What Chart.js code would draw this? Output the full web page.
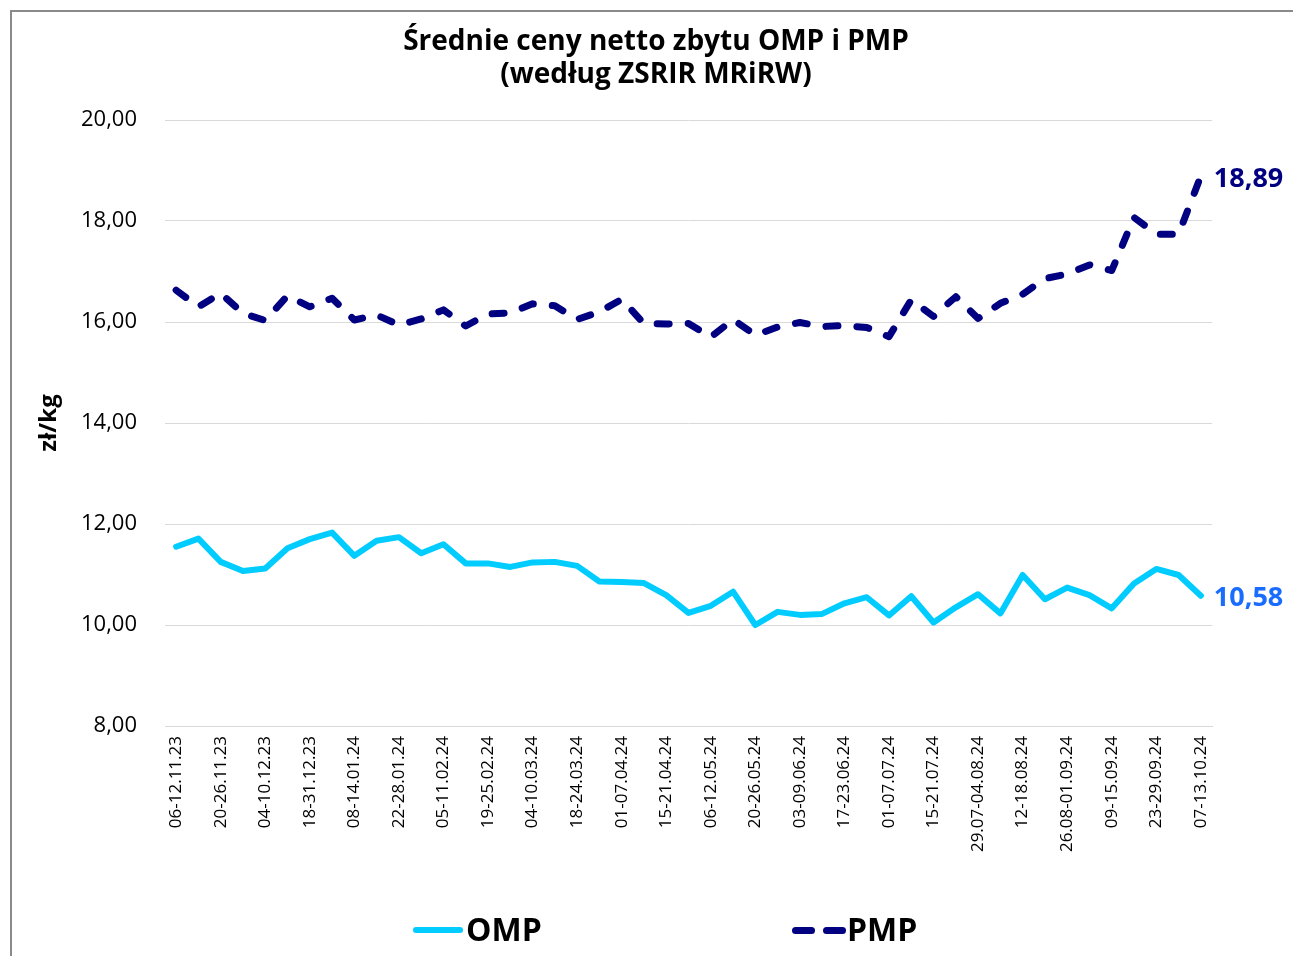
<!DOCTYPE html>
<html>
<head>
<meta charset="utf-8">
<script src="https://cdn.jsdelivr.net/npm/chart.js@4.4.1/dist/chart.umd.min.js"></script>
<style>
  html, body { margin: 0; padding: 0; background: #ffffff; }
  #wrap { position: relative; width: 1293px; height: 956px; overflow: hidden; }
  #frame { position: absolute; left: 10px; top: 10px; width: 1400px; height: 1000px;
           border-left: 2px solid #8a8a8a; border-top: 2px solid #8a8a8a; }
  #c { position: absolute; left: 0; top: 0; }
  #title { position: absolute; left: 0; top: 23px; width: 1312px; text-align: center;
           font-family: "Open Sans", sans-serif; font-weight: 700; font-size: 28px;
           line-height: 33px; color: #000; }
  .leg { position: absolute; font-family: "Open Sans", sans-serif; font-weight: 700;
         font-size: 32px; color: #000; line-height: 1; }
  .sw { position: absolute; border-radius: 4px; }
</style>
</head>
<body>
<div id="wrap">
  <div id="frame"></div>
  <canvas id="c" width="1293" height="956"></canvas>
  <div id="title"></div>
  <div class="sw" style="left:413px; top:927px; width:50px; height:6px; background:#00CCFF;"></div>
  <div class="leg" id="leg1" style="left:466px; top:913px;"></div>
  <div class="sw" style="left:792px; top:927px; width:23px; height:7px; background:#000080;"></div>
  <div class="sw" style="left:823px; top:927px; width:23px; height:7px; background:#000080;"></div>
  <div class="leg" id="leg2" style="left:847px; top:913px;"></div>
</div>
<script>
const categories = [
  "06-12.11.23", "13-19.11.23", "20-26.11.23", "27.11-03.12.23", "04-10.12.23",
  "11-17.12.23", "18-31.12.23", "01-07.01.24", "08-14.01.24", "15-21.01.24",
  "22-28.01.24", "29.01-04.02.24", "05-11.02.24", "12-18.02.24", "19-25.02.24",
  "26.02-03.03.24", "04-10.03.24", "11-17.03.24", "18-24.03.24", "25-31.03.24",
  "01-07.04.24", "08-14.04.24", "15-21.04.24", "22.04-05.05.24", "06-12.05.24",
  "13-19.05.24", "20-26.05.24", "27.05-02.06.24", "03-09.06.24", "10-16.06.24",
  "17-23.06.24", "24-30.06.24", "01-07.07.24", "08-14.07.24", "15-21.07.24",
  "22-28.07.24", "29.07-04.08.24", "05-11.08.24", "12-18.08.24", "19-25.08.24",
  "26.08-01.09.24", "02-08.09.24", "09-15.09.24", "16-22.09.24", "23-29.09.24",
  "30.09-06.10.24", "07-13.10.24"
];
const omp = [
  11.55, 11.71, 11.25, 11.07, 11.12, 11.52, 11.70, 11.83, 11.37, 11.67,
  11.74, 11.42, 11.60, 11.22, 11.22, 11.15, 11.24, 11.25, 11.17, 10.86,
  10.85, 10.83, 10.59, 10.24, 10.38, 10.66, 10.00, 10.26, 10.20, 10.22,
  10.43, 10.55, 10.19, 10.57, 10.05, 10.35, 10.61, 10.23, 10.99, 10.51,
  10.74, 10.59, 10.33, 10.82, 11.11, 10.99, 10.58
];
const pmp = [
  16.63, 16.30, 16.57, 16.17, 16.03, 16.52, 16.30, 16.47, 16.04, 16.14,
  15.94, 16.06, 16.24, 15.92, 16.16, 16.18, 16.36, 16.32, 16.05, 16.20,
  16.45, 15.97, 15.96, 15.97, 15.70, 16.05, 15.74, 15.90, 15.99, 15.91,
  15.93, 15.89, 15.71, 16.44, 16.11, 16.50, 16.07, 16.37, 16.55, 16.86,
  16.95, 17.13, 17.02, 18.07, 17.74, 17.74, 18.89
];
const yMin = 8, yMax = 20, yStep = 2;
const titleLines = ["Średnie ceny netto zbytu OMP i PMP", "(według ZSRIR MRiRW)"];
const yTitle = "zł/kg";
const seriesNames = ["OMP", "PMP"];

const fmt = v => Number(v).toFixed(2).replace('.', ',');

const titleEl = document.getElementById('title');
titleLines.forEach((t, i) => {
  if (i) titleEl.appendChild(document.createElement('br'));
  titleEl.appendChild(document.createTextNode(t));
});
document.getElementById('leg1').textContent = seriesNames[0];
document.getElementById('leg2').textContent = seriesNames[1];

const endLabels = {
  id: 'endLabels',
  afterDatasetsDraw(chart) {
    const ctx = chart.ctx;
    chart.data.datasets.forEach((ds, i) => {
      const meta = chart.getDatasetMeta(i);
      const last = meta.data[meta.data.length - 1];
      if (!last) return;
      ctx.save();
      ctx.font = '700 27px "Open Sans", sans-serif';
      ctx.fillStyle = ds.endLabelColor;
      ctx.textAlign = 'left';
      ctx.textBaseline = 'middle';
      ctx.fillText(fmt(ds.data[ds.data.length - 1]), last.x + 13, last.y + 3);
      ctx.restore();
    });
  }
};

new Chart(document.getElementById('c'), {
  type: 'line',
  data: {
    labels: categories,
    datasets: [
      {
        label: seriesNames[0], data: omp,
        borderColor: '#00CCFF', backgroundColor: '#00CCFF',
        borderWidth: 6, pointRadius: 0, tension: 0,
        borderJoinStyle: 'round', borderCapStyle: 'round',
        endLabelColor: '#1a6cff'
      },
      {
        label: seriesNames[1], data: pmp,
        borderColor: '#000080', backgroundColor: '#000080',
        borderWidth: 7, pointRadius: 0, tension: 0,
        borderDash: [12, 19], borderCapStyle: 'round', borderJoinStyle: 'round',
        endLabelColor: '#000080'
      }
    ]
  },
  options: {
    responsive: false,
    animation: false,
    devicePixelRatio: 1,
    layout: { padding: { top: 120, left: 0, right: 81, bottom: 80 } },
    plugins: {
      legend: { display: false },
      tooltip: { enabled: false },
      title: { display: false }
    },
    scales: {
      x: {
        offset: true,
        grid: { display: false, drawTicks: false },
        border: { display: true, color: '#d9d9d9' },
        ticks: {
          autoSkip: false, maxRotation: 90, minRotation: 90, padding: 10,
          color: '#000',
          font: { family: '"Open Sans", sans-serif', size: 17 },
          callback: function (val, idx) { return idx % 2 === 0 ? this.getLabelForValue(val) : null; }
        },
        afterFit(scale) { scale.height = 150; }
      },
      y: {
        min: yMin, max: yMax,
        grid: { color: '#d9d9d9', lineWidth: 1, drawTicks: false },
        border: { display: false },
        ticks: {
          stepSize: yStep, padding: 28, color: '#000',
          font: { family: '"Open Sans", sans-serif', size: 22 },
          callback: v => fmt(v)
        },
        title: {
          display: true, text: yTitle, color: '#000',
          font: { family: '"Open Sans", sans-serif', size: 24, weight: '700', lineHeight: 1.2 },
          padding: { top: 35, bottom: 0 }
        },
        afterFit(scale) { scale.width = 165; }
      }
    }
  },
  plugins: [endLabels]
});
</script>
</body>
</html>
